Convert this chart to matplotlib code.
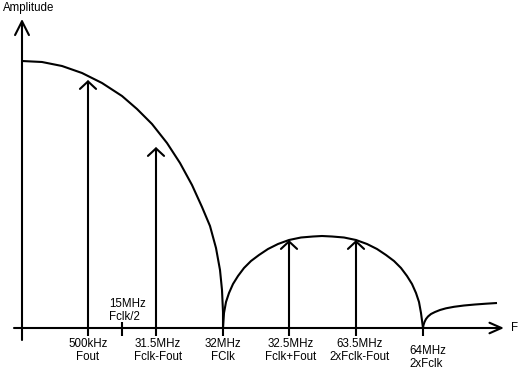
import numpy as np
import matplotlib.pyplot as plt

plt.rcParams['font.family'] = ['Liberation Sans', 'DejaVu Sans']

# diagram units: x=0 is the amplitude axis, y=0 is the frequency axis
# spectral lines (position, height)
line_x = [66, 134, 267, 334]
line_h = [248, 181, 88, 88]

# labels under the frequency axis
label_x = [66, 136, 201, 269, 338]
label_top = ['500kHz', '31.5MHz', '32MHz', '32.5MHz', '63.5MHz']
label_bot = ['Fout', 'Fclk-Fout', 'FClk', 'Fclk+Fout', '2xFclk-Fout']

tick_x = [66, 134, 201, 267, 334, 401]
half_clk_x = 100

# sinc-like envelope
lobe1_x = [0, 20, 40, 60, 80, 100, 115, 130, 145, 158, 170, 180, 188, 194, 198, 200, 201, 201]
lobe1_y = [267, 266, 262, 255, 245, 232, 219, 204, 185, 165, 143, 121, 102, 80, 58, 38, 16, 0]
lobe2_x = [201, 202, 204, 207, 211, 216, 222, 229, 237, 246, 256, 267, 279, 291, 300,
           310, 322, 334, 345, 355, 364, 372, 379, 385, 390, 394, 397, 399, 401]
lobe2_y = [0, 15, 26, 35, 44, 52, 60, 67, 73, 79, 84, 88, 90.5, 91.5, 92,
           91.5, 90.5, 88, 84, 79, 73, 67, 60, 52, 44, 35, 26, 15, 0]
lobe3_x = [401, 401.5, 402.5, 404, 406, 409, 413, 418, 424, 432, 442, 453, 464, 475]
lobe3_y = [0, 3, 6, 9, 11.5, 14, 16, 18, 19.7, 21.2, 22.5, 23.5, 24.3, 25]

lw = 1.5
fig = plt.figure(figsize=(5.19, 3.70), dpi=100)
ax = fig.add_axes([0, 0, 1, 1])
ax.set_xlim(-22, 497)
ax.set_ylim(-42, 328)
ax.axis('off')

# axes with open arrow heads
ax.annotate('', xy=(0, 309), xytext=(0, -12),
            arrowprops=dict(arrowstyle='->,head_length=0.99,head_width=0.5',
                            lw=lw, color='black', shrinkA=0, shrinkB=0))
ax.annotate('', xy=(482, 0), xytext=(-8, 0),
            arrowprops=dict(arrowstyle='->,head_length=0.86,head_width=0.38',
                            lw=lw, color='black', shrinkA=0, shrinkB=0))

# envelope
for xs, ys in [(lobe1_x, lobe1_y), (lobe2_x, lobe2_y), (lobe3_x, lobe3_y)]:
    ax.plot(xs, ys, color='black', lw=lw, solid_capstyle='butt', solid_joinstyle='round')

# ticks below the axis
ax.vlines(tick_x, -8, 0, color='black', lw=lw)
ax.vlines(half_clk_x, -8, 6, color='black', lw=lw)

# spectral lines
for x, h in zip(line_x, line_h):
    ax.annotate('', xy=(x, h), xytext=(x, 0),
                arrowprops=dict(arrowstyle='->,head_length=0.54,head_width=0.58',
                                lw=lw, color='black', shrinkA=0, shrinkB=0))

fs = 8.3
for x, t, b in zip(label_x, label_top, label_bot):
    ax.text(x, -19, t, ha='center', va='baseline', fontsize=fs)
    ax.text(x, -32, b, ha='center', va='baseline', fontsize=fs)

ax.text(387.5, -26.5, '64MHz', ha='left', va='baseline', fontsize=fs)
ax.text(387.5, -39, '2xFclk', ha='left', va='baseline', fontsize=fs)
ax.text(87.5, 21, '15MHz', ha='left', va='baseline', fontsize=fs)
ax.text(87.5, 8, 'Fclk/2', ha='left', va='baseline', fontsize=fs)

ax.text(-19.5, 316.5, 'Amplitude', ha='left', va='baseline', fontsize=fs)
ax.text(489, 0, 'F', ha='left', va='center', fontsize=fs)

fig.savefig('out.png', dpi=100)
